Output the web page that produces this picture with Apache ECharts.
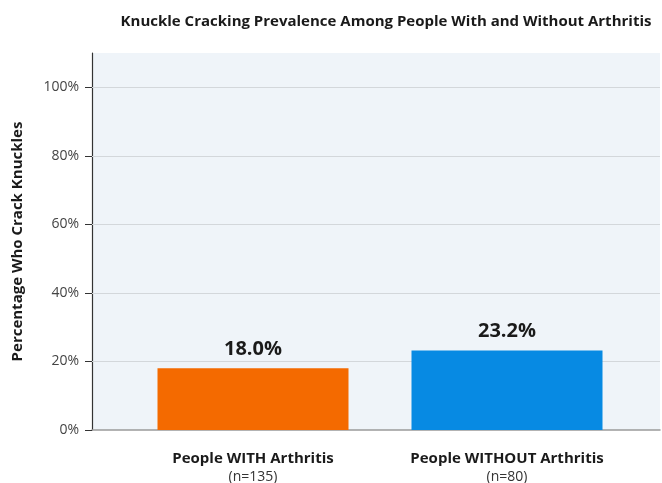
<!DOCTYPE html>
<html>
<head>
<meta charset="utf-8">
<script src="https://cdn.jsdelivr.net/npm/echarts@6/dist/echarts.min.js"></script>
<style>
  html, body { margin: 0; padding: 0; background: #fff; }
  #chart { width: 662px; height: 483px; }
</style>
</head>
<body>
<div id="chart"></div>
<script>
// Knuckle cracking share by arthritis status
const groups = ['People WITH Arthritis', 'People WITHOUT Arthritis'];
const sampleSizes = ['(n=135)', '(n=80)'];
const prevalence = [18.0, 23.2];
const barColors = ['#f46a00', '#078ae3'];
const yTicks = [0, 20, 40, 60, 80, 100];

const FONT = '"Open Sans", "Noto Sans", sans-serif';
const Y_MAX = 110;

const chart = echarts.init(document.getElementById('chart'), null, { renderer: 'canvas' });

chart.setOption({
  animation: false,
  backgroundColor: '#ffffff',
  title: {
    text: 'Knuckle Cracking Prevalence Among People With and Without Arthritis',
    left: 381,
    top: 9,
    textAlign: 'center',
    textStyle: { fontFamily: FONT, fontSize: 15, fontWeight: 'bold', color: '#1a1a1a' }
  },
  grid: [
    // frame: background, y axis and gridlines
    { left: 92, right: 2, top: 53, bottom: 53, show: true, backgroundColor: '#eff4f9', borderWidth: 0, outerBoundsMode: 'none' },
    // bars
    { left: 126, right: 28, top: 53, bottom: 53, outerBoundsMode: 'none' }
  ],
  xAxis: [
    {
      gridIndex: 0, type: 'category', data: [''],
      axisLine: { lineStyle: { color: '#9a9a9a', width: 1.5 } },
      axisTick: { show: false }, axisLabel: { show: false }, splitLine: { show: false }
    },
    {
      gridIndex: 1, type: 'category', data: groups,
      axisLine: { show: false }, axisTick: { show: false },
      axisLabel: {
        margin: 20,
        interval: 0,
        formatter: (v, i) => '{b|' + v + '}\n{n|' + sampleSizes[i] + '}',
        rich: {
          b: { fontFamily: FONT, fontSize: 15, fontWeight: 'bold', color: '#1a1a1a', lineHeight: 18 },
          n: { fontFamily: FONT, fontSize: 14, color: '#333', lineHeight: 18 }
        }
      }
    }
  ],
  yAxis: [
    {
      gridIndex: 0, type: 'value', min: 0, max: Y_MAX, interval: 20,
      name: 'Percentage Who Crack Knuckles',
      nameLocation: 'middle', nameGap: 67, nameRotate: 90,
      nameTextStyle: { fontFamily: FONT, fontSize: 15, fontWeight: 'bold', color: '#1a1a1a' },
      axisLine: { show: true, lineStyle: { color: '#333', width: 1.2 } },
      axisTick: { show: true, length: 7, customValues: yTicks, lineStyle: { color: '#333' } },
      axisLabel: {
        margin: 13,
        customValues: yTicks,
        fontFamily: FONT, fontSize: 14, color: '#444',
        formatter: v => v + '%'
      },
      splitLine: { show: false }
    },
    {
      gridIndex: 1, type: 'value', min: 0, max: Y_MAX, interval: 20,
      show: false, splitLine: { show: false }
    }
  ],
  series: [
    {
      // horizontal gridlines across the full frame, kept under the bars
      type: 'line',
      xAxisIndex: 0, yAxisIndex: 0,
      data: [],
      silent: true,
      z: 1,
      markLine: {
        z: 1,
        silent: true,
        symbol: ['none', 'none'],
        label: { show: false },
        lineStyle: { color: '#d3d7db', width: 1, type: 'solid' },
        data: yTicks.filter(v => v > 0).map(v => ({ yAxis: v }))
      }
    },
    {
      type: 'bar',
      xAxisIndex: 1, yAxisIndex: 1,
      barWidth: 191,
      z: 10,
      data: prevalence.map((v, i) => ({ value: v, itemStyle: { color: barColors[i] } })),
      label: {
        show: true, position: 'top', distance: 9,
        formatter: p => p.value.toFixed(1) + '%',
        fontFamily: FONT, fontSize: 20, fontWeight: 'bold', color: '#1a1a1a'
      }
    }
  ]
});
</script>
</body>
</html>
